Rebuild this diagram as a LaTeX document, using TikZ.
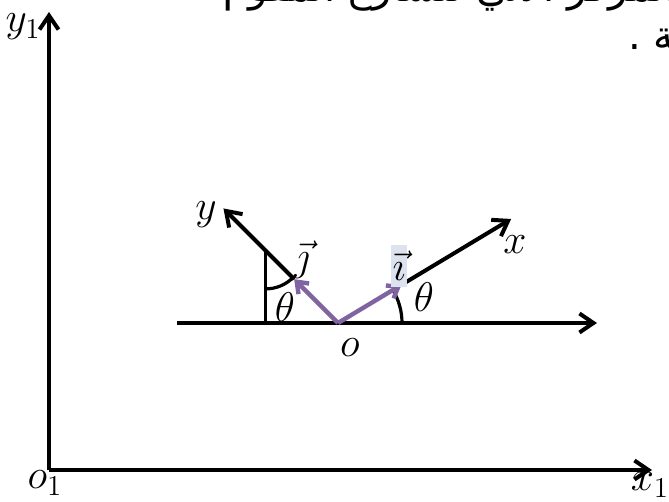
\documentclass[tikz,border=0pt]{standalone}
\usepackage{fontspec}
\usepackage{tikz}
\usetikzlibrary{arrows.meta,calc}
\newfontfamily\arabicfont[Script=Arabic]{DejaVu Sans}
\TeXXeTstate=1
\definecolor{VecPurple}{HTML}{8064A2}
\definecolor{Highlight}{HTML}{DCE2EE}

\begin{document}
\begin{tikzpicture}[x=.5pt,y=.5pt,
    axis/.style={draw=black,line width=2pt,-{Straight Barb[length=7pt,width=9.5pt]}},
    unitvec/.style={draw=VecPurple,line width=2.2pt,-{Straight Barb[length=5pt,width=7.5pt]}},
    thinline/.style={draw=black,line width=1.6pt},
    mathlabel/.style={inner sep=0pt,font=\fontsize{22}{26}\selectfont},
    arabline/.style={inner sep=0pt,anchor=base west,font=\arabicfont\fontsize{20}{24}\selectfont}]
      \clip (0,0) rectangle (669,502);
      \coordinate (O1) at (49,32);
      \coordinate (Y1) at (49,490);
      \coordinate (X1) at (652,32);
      \coordinate (o) at (338,179);
      \coordinate (hl) at (177,179);
      \coordinate (hr) at (597,179);
      \coordinate (itip) at ($(o)+(31:74)$);
      \coordinate (xtip) at ($(o)+(31:202)$);
      \coordinate (jtip) at ($(o)+(135:62)$);
      \coordinate (ytip) at ($(o)+(135:162)$);
      \coordinate (top) at ($(o)+(135:102)$);
      \coordinate (foot) at (top |- o);
      \draw[axis] (O1) -- (Y1);
      \draw[axis] (O1) -- (X1);
      \draw[axis] (hl) -- (hr);
      \draw[axis] (itip) -- (xtip);
      \draw[axis] (jtip) -- (ytip);
      \draw[thinline] (foot) -- (top);
      \draw[thinline] ($(top)+(270:38)$) arc[start angle=270,end angle=315,radius=38];
      \draw[thinline] ($(o)+(64,0)$) arc[start angle=0,end angle=31,radius=64];
      \draw[unitvec] (o) -- (jtip);
      \draw[unitvec] (o) -- (itip);
      \node[mathlabel] (y1lab) at (23,475) {$y_1$};
      \node[mathlabel] (o1lab) at (45,19) {$o_1$};
      \node[mathlabel] (x1lab) at (650,17) {$x_1$};
      \node[mathlabel] (ylab) at (206,287) {$y$};
      \node[mathlabel] (xlab) at (515,257) {$x$};
      \node[mathlabel] (jlab) at (302,242) {$\vec{\jmath}$};
      \node[mathlabel,fill=Highlight,inner xsep=1pt,inner ysep=3pt] (ilab) at (399,236) {$\vec{\imath}$};
      \node[mathlabel] (thetaleft) at (285,195) {$\theta$};
      \node[mathlabel] (thetaright) at (424,205) {$\theta$};
      \node[mathlabel] (olab) at (350,154) {$o$};
      \node[arabline] (textone) at (223,500) {\beginR على المركز الآني لتسارع المقوم\endR};
      \node[arabline] (texttwo) at (628,452) {\beginR معينة .\endR};
\end{tikzpicture}
\end{document}
